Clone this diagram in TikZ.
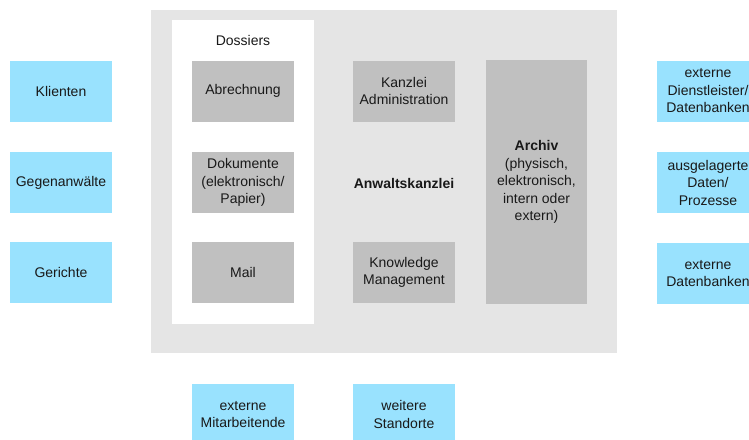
\documentclass[tikz,border=0pt]{standalone}
\usepackage{fontspec}
\setmainfont{Liberation Sans}
\begin{document}
\definecolor{partner}{HTML}{99E2FE}
\definecolor{office}{HTML}{E5E5E5}
\definecolor{unit}{HTML}{C0C0C0}
\tikzset{
  txt/.style={font=\fontsize{14}{17.5}\selectfont, text=black!90, align=center},
  ext/.style={txt, fill=partner, minimum width=102pt, minimum height=61pt, inner sep=0pt},
  unitbox/.style={txt, fill=unit, minimum width=102pt, minimum height=61pt, inner sep=0pt},
}
\begin{tikzpicture}[x=1pt, y=-1pt]
  \clip (0,0) rectangle (749,439);
  \useasboundingbox (0,0) rectangle (749,439);
  \fill[white] (0,0) rectangle (749,439);

  % law firm area
  \node[fill=office, minimum width=466pt, minimum height=343pt, inner sep=0pt] (kanzlei) at (384,181.5) {};
  \node[fill=white, minimum width=142pt, minimum height=304pt, inner sep=0pt] (dossiers) at (243,172) {};
  \node[txt] (dosslabel) at (243,40) {Dossiers};

  % dossier contents
  \node[unitbox] (abrechnung) at (243,91) {Abrechnung};
  \node[unitbox] (dokumente) at (243,182.5) {Dokumente\\(elektronisch/\\Papier)};
  \node[unitbox] (mail) at (243,272.5) {Mail};

  % firm units
  \node[unitbox] (admin) at (404,91) {Kanzlei\\Administration};
  \node[txt, font=\fontsize{14}{17.5}\selectfont\bfseries] (name) at (404,183) {Anwaltskanzlei};
  \node[unitbox] (knowledge) at (404,272.5) {Knowledge\\Management};
  \node[txt, fill=unit, minimum width=101pt, minimum height=244pt, inner sep=0pt] (archiv) at (536.5,182) {\textbf{Archiv}\\(physisch,\\elektronisch,\\intern oder\\extern)};

  % external parties, left
  \node[ext] (klienten) at (61,91.5) {Klienten};
  \node[ext] (gegen) at (61,182.5) {Gegenanwälte};
  \node[ext] (gerichte) at (61,272.5) {Gerichte};

  % external parties, right
  \node[ext] (dienst) at (708,91) {externe\\Dienstleister/\\Datenbanken};
  \node[ext] (ausgelagert) at (708,182.5) {ausgelagerte\\Daten/\\Prozesse};
  \node[ext] (datenbanken) at (708,273.5) {externe\\Datenbanken};

  % external parties, bottom
  \node[ext] (mitarbeitende) at (243,414.5) {externe\\Mitarbeitende};
  \node[ext] (standorte) at (404,414.5) {weitere\\Standorte};
\end{tikzpicture}
\end{document}
